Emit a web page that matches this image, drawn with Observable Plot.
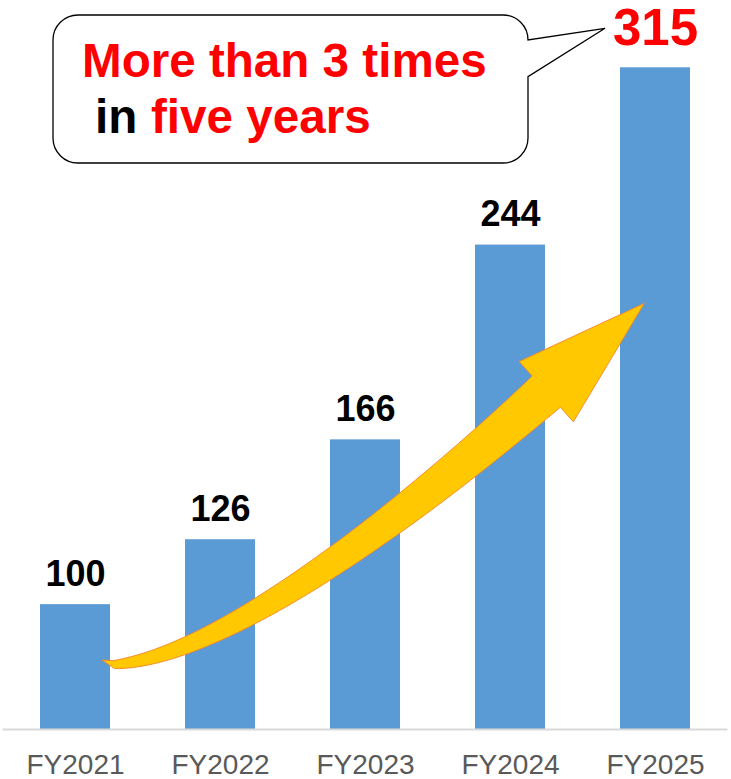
<!DOCTYPE html>
<html>
<head>
<meta charset="utf-8">
<script src="https://cdn.jsdelivr.net/npm/d3@7"></script>
<script src="https://cdn.jsdelivr.net/npm/@observablehq/plot@0.6"></script>
<style>
html, body { margin: 0; padding: 0; background: #fff; }
#chart svg { display: block; }
</style>
</head>
<body>
<div id="chart"></div>
<script>
// ---- data ----
const years = ["FY2021", "FY2022", "FY2023", "FY2024", "FY2025"];
const values = [100, 126, 166, 244, 315];
const yBase = 50;        // value axis starts at 50
const yTop = 341.95;     // value at the top edge of the frame
const calloutLine1 = "More than 3 times";
const calloutLine2a = "in";
const calloutLine2b = "five years";
// arrow anchors (data space: band + fraction of a step, value)
const arrowTail = { year: "FY2021", shift: 0.27, value: 75.8 };
const arrowHead = { year: "FY2024", shift: 0.25, value: 185.1 };

const data = years.map((year, i) => ({ year, value: values[i] }));
const lastYear = years[years.length - 1];
const font = "'Liberation Sans', Arial, Helvetica, sans-serif";

// ---- decorative curved arrow, placed through the scales ----
function arrowMark(index, scales) {
  const x = scales.x, y = scales.y;
  const bw = x.bandwidth(), step = x.step();
  const px = a => x(a.year) + bw / 2 + a.shift * step;
  const P0 = [px(arrowTail), y(arrowTail.value)];
  const P3 = [px(arrowHead), y(arrowHead.value)];
  const dir = [0.743, -0.669];
  const P1 = [P0[0] + 118, P0[1] - 9.5];
  const P2 = [P3[0] - 150 * dir[0], P3[1] - 150 * dir[1]];
  const N = 80;
  const upper = [], lower = [];
  for (let i = 0; i <= N; i++) {
    const t = i / N, u = 1 - t;
    const cx = u*u*u*P0[0] + 3*u*u*t*P1[0] + 3*u*t*t*P2[0] + t*t*t*P3[0];
    const cy = u*u*u*P0[1] + 3*u*u*t*P1[1] + 3*u*t*t*P2[1] + t*t*t*P3[1];
    let tx = 3*u*u*(P1[0]-P0[0]) + 6*u*t*(P2[0]-P1[0]) + 3*t*t*(P3[0]-P2[0]);
    let ty = 3*u*u*(P1[1]-P0[1]) + 6*u*t*(P2[1]-P1[1]) + 3*t*t*(P3[1]-P2[1]);
    const len = Math.hypot(tx, ty); tx /= len; ty /= len;
    const nx = ty, ny = -tx;
    const w = 4 + 17 * Math.pow(t, 0.8);
    upper.push([cx + nx * w, cy + ny * w]);
    lower.push([cx - nx * w, cy - ny * w]);
  }
  const nx = dir[1], ny = -dir[0];
  const barbU = [P3[0] + nx * 40.5, P3[1] + ny * 40.5];
  const barbL = [P3[0] - nx * 40.5, P3[1] - ny * 40.5];
  const tip = [P3[0] + dir[0] * 132, P3[1] + dir[1] * 132];
  const tail = [P0[0] - 12, P0[1] - 4.5];
  const pts = [tail, ...upper, barbU, tip, barbL, ...lower.reverse()];
  const g = d3.create("svg:g");
  g.append("path")
    .attr("d", "M" + pts.map(p => p[0].toFixed(2) + "," + p[1].toFixed(2)).join("L") + "Z")
    .attr("fill", "#FFC800")
    .attr("stroke", "#F5852A")
    .attr("stroke-width", 0.9)
    .attr("stroke-linejoin", "miter");
  return g.node();
}

// ---- callout bubble ----
function calloutMark() {
  const L = 53, T = 15, R = 528, B = 163, r = 25;
  const tipX = 605, tipY = 28.3, p2 = 76.7;
  const fs = 47.6;
  const g = d3.create("svg:g").attr("text-anchor", "start");
  g.append("path")
    .attr("d", `M${L + r},${T}H${R - r}A${r},${r} 0 0 1 ${R},${T + r}L${tipX},${tipY}L${R},${p2}V${B - r}A${r},${r} 0 0 1 ${R - r},${B}H${L + r}A${r},${r} 0 0 1 ${L},${B - r}V${T + r}A${r},${r} 0 0 1 ${L + r},${T}Z`)
    .attr("fill", "#fff")
    .attr("stroke", "#000")
    .attr("stroke-width", 1.3);
  g.append("text")
    .attr("x", 82).attr("y", 77)
    .attr("text-anchor", "start")
    .attr("font-family", font).attr("font-weight", "bold").attr("font-size", fs)
    .attr("fill", "#FF0000")
    .text(calloutLine1);
  g.append("text")
    .attr("x", 95).attr("y", 133)
    .attr("text-anchor", "start")
    .attr("font-family", font).attr("font-weight", "bold").attr("font-size", fs)
    .attr("fill", "#000")
    .text(calloutLine2a);
  g.append("text")
    .attr("x", 151).attr("y", 133)
    .attr("text-anchor", "start")
    .attr("font-family", font).attr("font-weight", "bold").attr("font-size", fs)
    .attr("fill", "#FF0000")
    .text(calloutLine2b);
  return g.node();
}

const chart = Plot.plot({
  width: 731,
  height: 779,
  marginLeft: 2.5,
  marginRight: 3.5,
  marginTop: 0,
  marginBottom: 50,
  style: { fontFamily: font, background: "#fff" },
  x: { domain: years, paddingInner: 0.5172, paddingOuter: 0.2586, axis: null },
  y: { domain: [yBase, yTop], axis: null },
  marks: [
    Plot.barY(data, { x: "year", y1: yBase, y2: "value", fill: "#5B9BD5" }),
    Plot.ruleY([yBase], { stroke: "#D9D9D9", strokeWidth: 2 }),
    arrowMark,
    Plot.text(data.filter(d => d.year !== lastYear), {
      x: "year", y: "value", text: d => String(d.value),
      dy: -19, lineAnchor: "bottom", fontSize: 36, fontWeight: "bold", fill: "#000", fontFamily: font
    }),
    Plot.text(data.filter(d => d.year === lastYear), {
      x: "year", y: "value", text: d => String(d.value),
      dy: -23, lineAnchor: "bottom", fontSize: 51, fontWeight: "bold", fill: "#FF0000", fontFamily: font
    }),
    Plot.text(years, {
      x: d => d, frameAnchor: "bottom", lineAnchor: "bottom", dy: 44,
      fontSize: 28, fill: "#595959", fontFamily: font
    }),
    calloutMark
  ]
});
document.getElementById("chart").appendChild(chart);
</script>
</body>
</html>
